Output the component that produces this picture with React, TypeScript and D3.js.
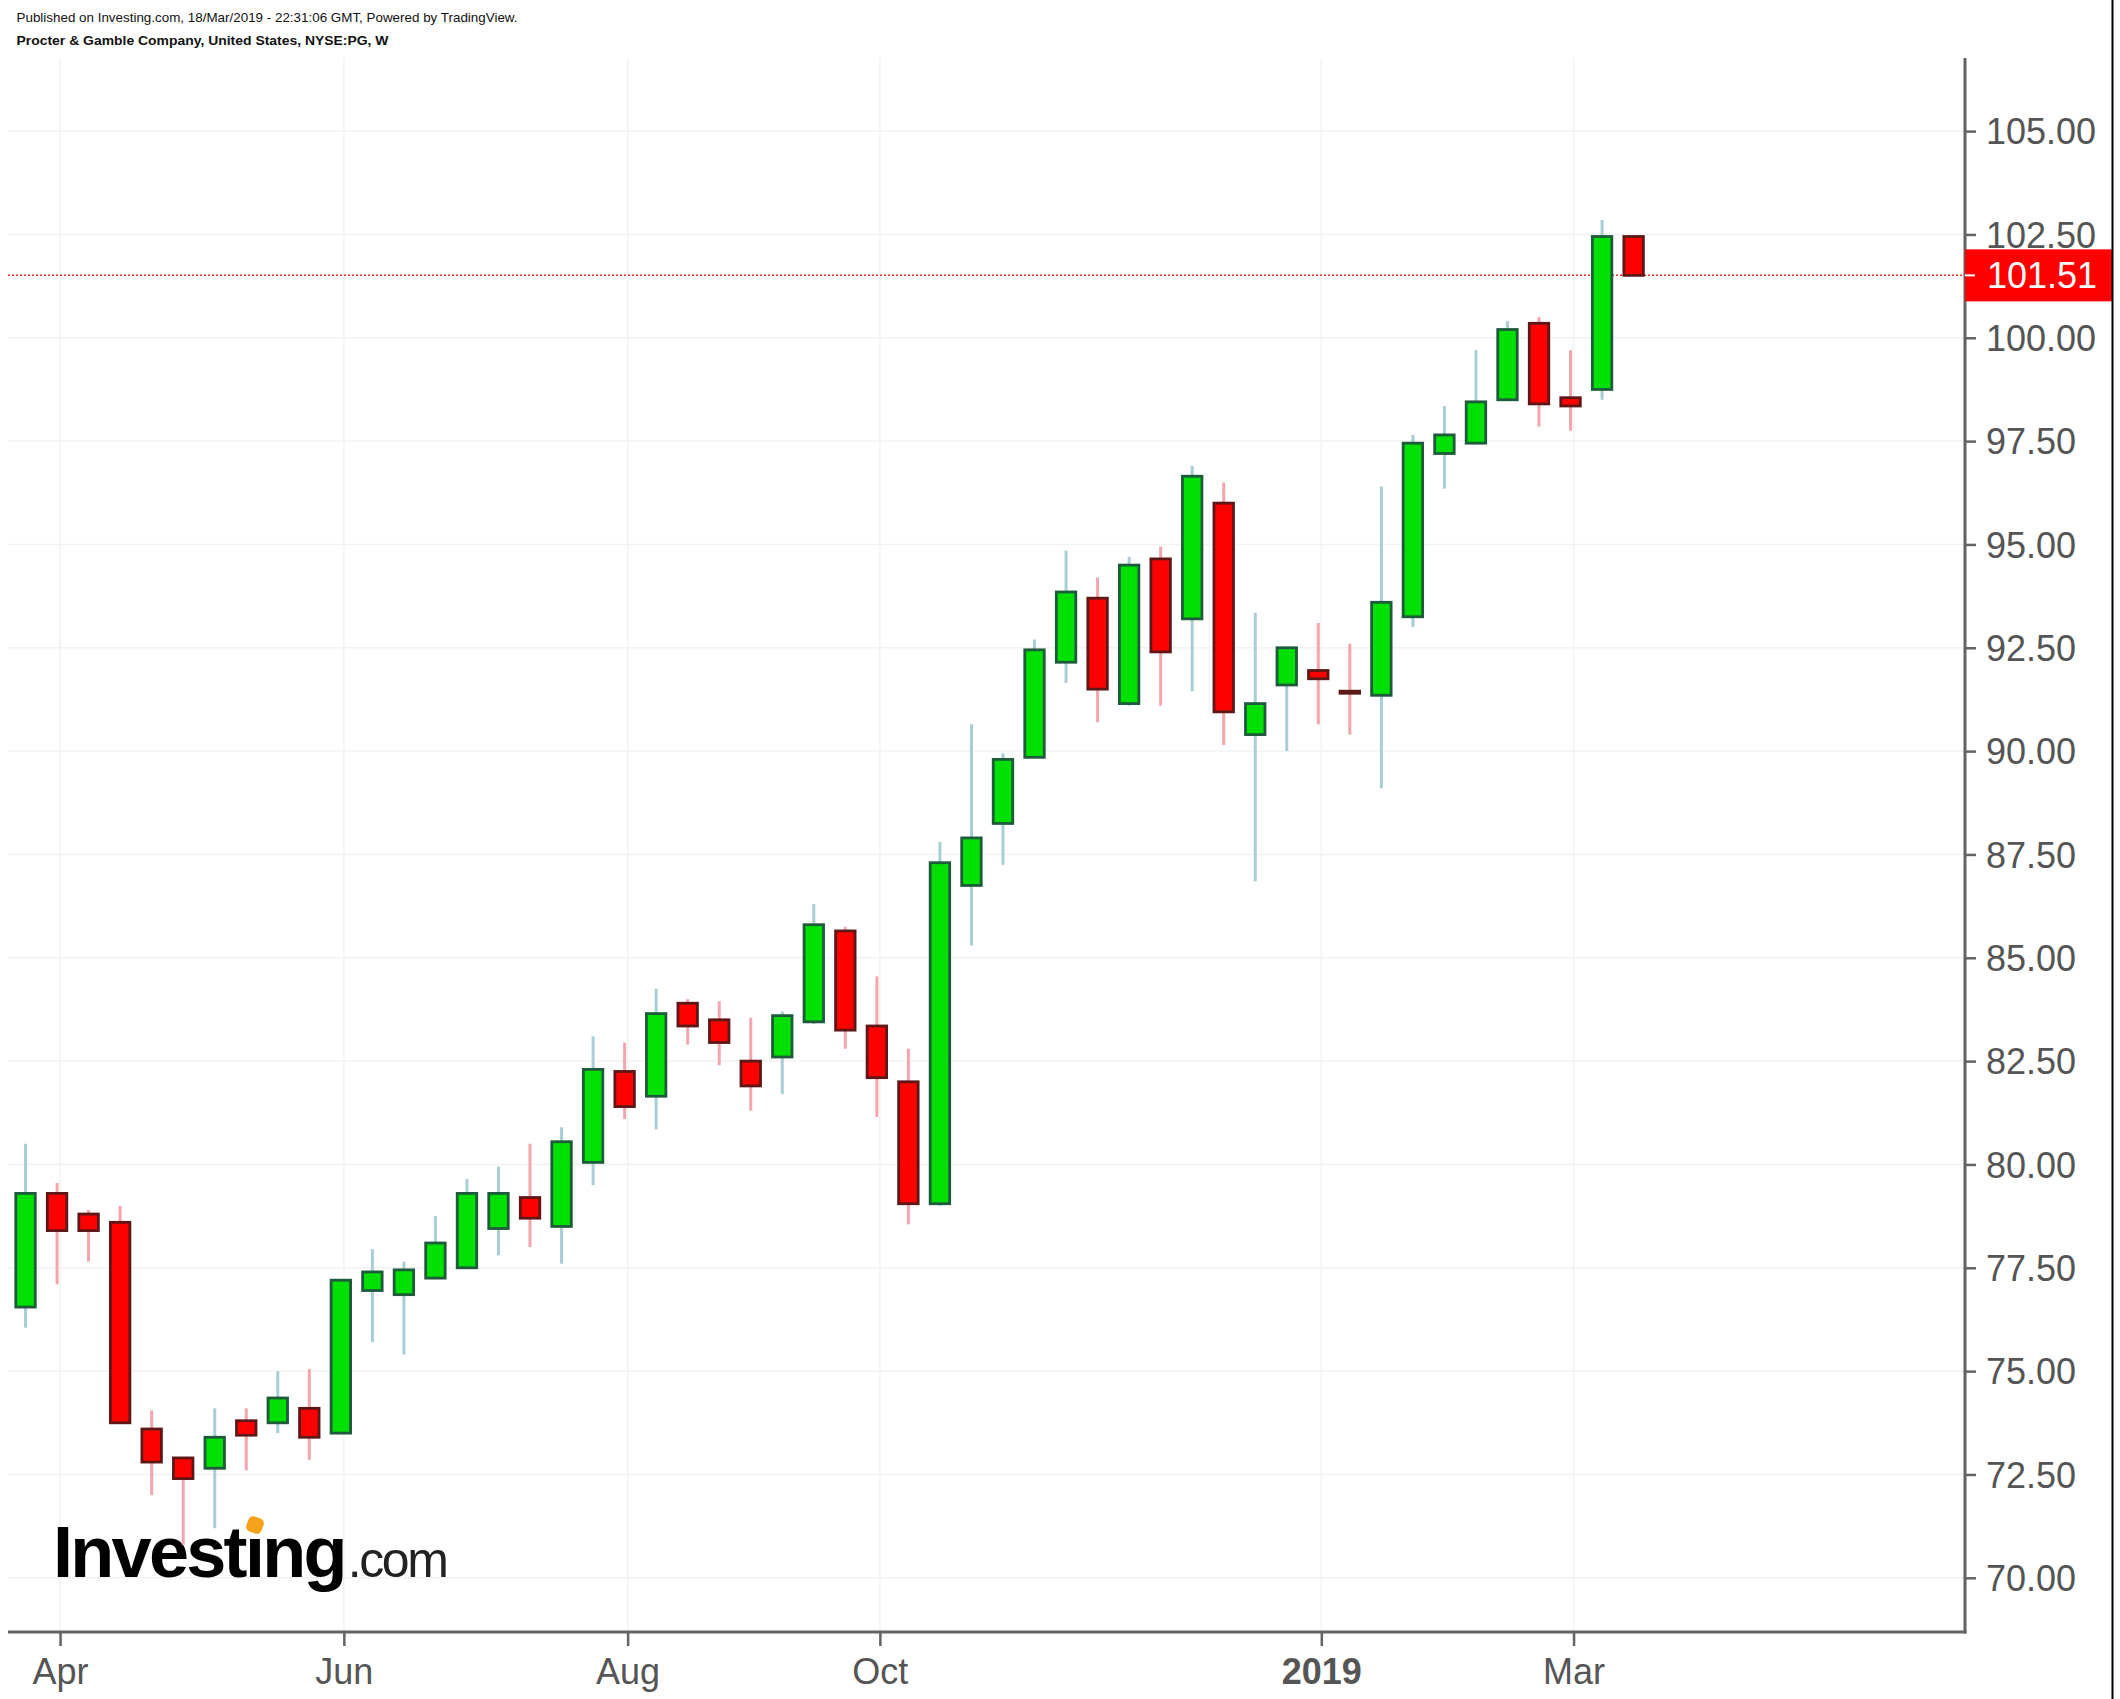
import React, { useEffect, useRef } from 'react';
import * as d3 from 'd3';

// ---------- data ----------
const START_WEEK = '2018-03-26';
const OPEN = [76.55, 79.3, 78.8, 78.6, 73.6, 72.9, 72.65, 73.8, 73.75, 74.1, 73.5, 76.95, 76.85, 77.25, 77.5, 78.45, 79.2, 78.5, 80.05, 82.25, 81.65, 83.9, 83.5, 82.5, 82.6, 83.45, 85.65, 83.35, 82.0, 79.05, 86.75, 88.25, 89.85, 92.15, 93.7, 91.15, 94.65, 93.2, 96.0, 90.4, 91.6, 91.95, 91.45, 91.35, 93.25, 97.2, 97.45, 98.5, 100.35, 98.55, 98.75, 102.45];
const HIGH = [80.5, 79.55, 78.9, 79.0, 74.05, 72.9, 74.1, 74.1, 75.0, 75.05, 77.2, 77.95, 77.65, 78.75, 79.65, 79.95, 80.5, 80.9, 83.1, 82.95, 84.25, 84.0, 83.95, 83.55, 83.7, 86.3, 85.75, 84.55, 82.8, 87.8, 90.65, 89.95, 92.7, 94.85, 94.2, 94.7, 94.95, 96.9, 96.5, 93.35, 92.5, 93.1, 92.6, 96.4, 97.65, 98.35, 99.7, 100.4, 100.5, 99.7, 102.85, 102.45];
const LOW = [76.05, 77.1, 77.65, 73.75, 72.0, 70.8, 71.2, 72.6, 73.5, 72.85, 73.5, 75.7, 75.4, 77.25, 77.5, 77.8, 78.0, 77.6, 79.5, 81.1, 80.85, 82.9, 82.4, 81.3, 81.7, 83.4, 82.8, 81.15, 78.55, 79.0, 85.3, 87.25, 89.85, 91.65, 90.7, 91.1, 91.1, 91.45, 90.15, 86.85, 90.0, 90.65, 90.4, 89.1, 93.0, 96.35, 97.45, 98.5, 97.85, 97.75, 98.5, 101.51];
const CLOSE = [79.3, 78.4, 78.4, 73.75, 72.8, 72.4, 73.4, 73.45, 74.35, 73.4, 77.2, 77.4, 77.45, 78.1, 79.3, 79.3, 78.7, 80.55, 82.3, 81.4, 83.65, 83.35, 82.95, 81.9, 83.6, 85.8, 83.25, 82.1, 79.05, 87.3, 87.9, 89.8, 92.45, 93.85, 91.5, 94.5, 92.4, 96.65, 90.95, 91.15, 92.5, 91.75, 91.4, 93.6, 97.45, 97.65, 98.45, 100.2, 98.4, 98.35, 102.45, 101.51];
const X_TICK_DATES = ['2018-04-02', '2018-06-04', '2018-08-06', '2018-10-01', '2019-01-07', '2019-03-04'];
const X_TICK_LABELS = ['Apr', 'Jun', 'Aug', 'Oct', '2019', 'Mar'];
const X_TICK_BOLD = [false, false, false, false, true, false];
const Y_TICKS = [70, 72.5, 75, 77.5, 80, 82.5, 85, 87.5, 90, 92.5, 95, 97.5, 100, 102.5, 105];
const LAST_PRICE = 101.51;
const HEADER_1 = 'Published on Investing.com, 18/Mar/2019 - 22:31:06 GMT, Powered by TradingView.';
const HEADER_2 = 'Procter & Gamble Company, United States, NYSE:PG, W';

// ---------- styles ----------
const W = 2120;
const H = 1699;
const PLOT_L = 8;
const PLOT_R = 1965;
const PLOT_T = 58;
const PLOT_B = 1632;
const WEEK_MS = 7 * 24 * 3600 * 1000;
const FONT = 'Arial, "Liberation Sans", Helvetica, sans-serif';
const UP_FILL = '#00e000';
const UP_STROKE = '#1d5b3b';
const UP_WICK = '#a9cdd4';
const DN_FILL = '#ff0000';
const DN_STROKE = '#5e1717';
const DN_WICK = '#f4a5ad';
const AXIS = '#636363';
const LABEL = '#555555';
const GRID = '#f2f2f2';

export default function App() {
  const ref = useRef<SVGSVGElement | null>(null);

  useEffect(() => {
    const svg = d3.select(ref.current);
    svg.selectAll('*').remove();

    const parse = d3.utcParse('%Y-%m-%d');
    const start = parse(START_WEEK) as Date;
    const dates = OPEN.map((_, i) => new Date(start.getTime() + i * WEEK_MS));
    const bars = OPEN.map((o, i) => ({ date: dates[i], o, h: HIGH[i], l: LOW[i], c: CLOSE[i] }));

    const x = d3
      .scaleUtc()
      .domain([new Date(start.getTime() - 0.556 * WEEK_MS), new Date(start.getTime() + 61.51 * WEEK_MS)])
      .range([PLOT_L, PLOT_R]);
    const y = d3.scaleLinear().domain([70, 105]).range([1577.8, 131.1]);
    const tickDates = X_TICK_DATES.map((d) => parse(d) as Date);
    const TICK_SHIFT = 3;

    svg.append('rect').attr('x', 0).attr('y', 0).attr('width', W).attr('height', H).attr('fill', '#ffffff');

    // grid
    const grid = svg.append('g');
    grid
      .selectAll('line.h')
      .data(Y_TICKS)
      .join('line')
      .attr('x1', PLOT_L)
      .attr('x2', PLOT_R)
      .attr('y1', (d) => y(d))
      .attr('y2', (d) => y(d))
      .attr('stroke', GRID)
      .attr('stroke-width', 1.5);
    grid
      .selectAll('line.v')
      .data(tickDates)
      .join('line')
      .attr('x1', (d) => x(d) + TICK_SHIFT)
      .attr('x2', (d) => x(d) + TICK_SHIFT)
      .attr('y1', PLOT_T)
      .attr('y2', PLOT_B)
      .attr('stroke', GRID)
      .attr('stroke-width', 1.5);

    // watermark logo (one text, two spans)
    const logo = svg.append('g');
    const lt = logo
      .append('text')
      .attr('x', 53)
      .attr('y', 1577)
      .attr('font-family', FONT)
      .attr('fill', '#000');
    lt.append('tspan')
      .attr('font-weight', 'bold')
      .attr('font-size', 72)
      .attr('letter-spacing', -2.7)
      .text('Investing');
    lt.append('tspan')
      .attr('font-size', 50)
      .attr('fill', '#222')
      .attr('letter-spacing', -2.4)
      .attr('dx', 3)
      .text('.com');
    logo
      .append('rect')
      .attr('x', 247)
      .attr('y', 1517)
      .attr('width', 16)
      .attr('height', 16)
      .attr('rx', 5)
      .attr('fill', '#f7a21b')
      .attr('transform', 'rotate(20 255 1525)');

    // last price line
    svg
      .append('line')
      .attr('x1', PLOT_L)
      .attr('x2', PLOT_R)
      .attr('y1', y(LAST_PRICE))
      .attr('y2', y(LAST_PRICE))
      .attr('stroke', '#ff2a2a')
      .attr('stroke-width', 1.5)
      .attr('stroke-dasharray', '2,2');

    // candles
    const bodyW = 19.5;
    const g = svg.append('g');
    const candle = g
      .selectAll('g.c')
      .data(bars)
      .join('g')
      .attr('transform', (d) => `translate(${x(d.date)},0)`);
    candle
      .append('line')
      .attr('x1', 0)
      .attr('x2', 0)
      .attr('y1', (d) => y(d.h))
      .attr('y2', (d) => y(d.l))
      .attr('stroke', (d) => (d.c >= d.o ? UP_WICK : DN_WICK))
      .attr('stroke-width', 3);
    candle
      .append('rect')
      .attr('x', -bodyW / 2)
      .attr('width', bodyW)
      .attr('y', (d) => y(Math.max(d.o, d.c)))
      .attr('height', (d) => Math.max(1, Math.abs(y(d.o) - y(d.c))))
      .attr('fill', (d) => (d.c >= d.o ? UP_FILL : DN_FILL))
      .attr('stroke', (d) => (d.c >= d.o ? UP_STROKE : DN_STROKE))
      .attr('stroke-width', 2.8);

    // y axis
    const yAxis = d3
      .axisRight(y)
      .tickValues(Y_TICKS)
      .tickFormat((d) => d3.format('.2f')(d as number))
      .tickSize(11)
      .tickPadding(10);
    const ya = svg.append('g').attr('transform', `translate(${PLOT_R},0)`).call(yAxis);
    ya.select('.domain').remove();
    ya.selectAll('line').attr('stroke', AXIS).attr('stroke-width', 2.5);
    ya.selectAll('text')
      .attr('fill', LABEL)
      .attr('font-family', FONT)
      .attr('font-size', 36)
      .attr('dy', '0.35em');
    svg
      .append('line')
      .attr('x1', PLOT_R)
      .attr('x2', PLOT_R)
      .attr('y1', PLOT_T)
      .attr('y2', PLOT_B + 1.5)
      .attr('stroke', AXIS)
      .attr('stroke-width', 3);

    // x axis
    const xAxis = d3
      .axisBottom(x)
      .tickValues(tickDates)
      .tickFormat((_, i) => X_TICK_LABELS[i])
      .tickSize(14)
      .tickPadding(12);
    const xa = svg.append('g').attr('transform', `translate(${TICK_SHIFT},${PLOT_B})`).call(xAxis);
    xa.select('.domain').remove();
    xa.selectAll('line').attr('stroke', AXIS).attr('stroke-width', 2.5);
    xa.selectAll('text')
      .attr('fill', LABEL)
      .attr('font-family', FONT)
      .attr('font-size', 36)
      .attr('dy', '0.71em')
      .attr('font-weight', (_, i) => (X_TICK_BOLD[i] ? 'bold' : 'normal'));
    svg
      .append('line')
      .attr('x1', PLOT_L)
      .attr('x2', PLOT_R + 1.5)
      .attr('y1', PLOT_B)
      .attr('y2', PLOT_B)
      .attr('stroke', AXIS)
      .attr('stroke-width', 3);

    // last price label
    const py = y(LAST_PRICE);
    svg
      .append('rect')
      .attr('x', PLOT_R)
      .attr('y', py - 26)
      .attr('width', 2112 - PLOT_R)
      .attr('height', 52)
      .attr('fill', '#ff0000');
    svg
      .append('line')
      .attr('x1', PLOT_R)
      .attr('x2', PLOT_R + 10)
      .attr('y1', py)
      .attr('y2', py)
      .attr('stroke', '#ffffff')
      .attr('stroke-width', 2);
    svg
      .append('text')
      .attr('x', 1987)
      .attr('y', py)
      .attr('dy', '0.35em')
      .attr('fill', '#ffffff')
      .attr('font-family', FONT)
      .attr('font-size', 36)
      .text(d3.format('.2f')(LAST_PRICE));

    // header
    svg
      .append('text')
      .attr('x', 16.5)
      .attr('y', 22)
      .attr('font-family', FONT)
      .attr('font-size', 13)
      .attr('fill', '#111')
      .attr('textLength', 501)
      .attr('lengthAdjust', 'spacingAndGlyphs')
      .text(HEADER_1);
    svg
      .append('text')
      .attr('x', 16.5)
      .attr('y', 45)
      .attr('font-family', FONT)
      .attr('font-size', 13)
      .attr('font-weight', 'bold')
      .attr('fill', '#111')
      .attr('textLength', 372)
      .attr('lengthAdjust', 'spacingAndGlyphs')
      .text(HEADER_2);

    // right border line
    svg
      .append('line')
      .attr('x1', 2112.5)
      .attr('x2', 2112.5)
      .attr('y1', 0)
      .attr('y2', H)
      .attr('stroke', '#000')
      .attr('stroke-width', 2);
  }, []);

  return (
    <div style={{ position: 'absolute', left: 0, top: 0, width: W, height: H, overflow: 'hidden' }}>
      <svg ref={ref} width={W} height={H} style={{ display: 'block' }} />
    </div>
  );
}
